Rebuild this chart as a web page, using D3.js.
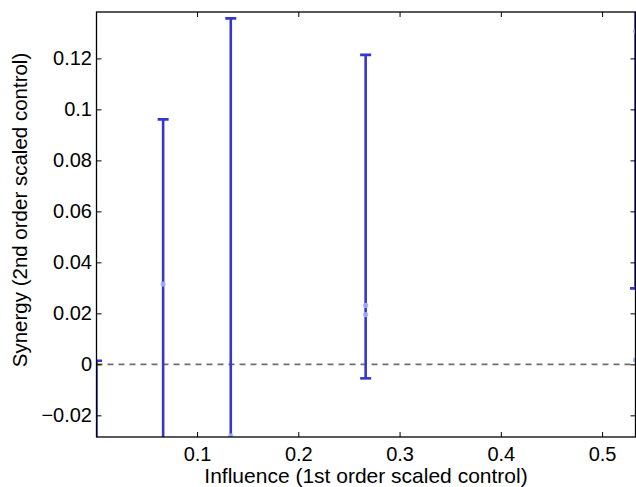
<!DOCTYPE html>
<html><head><meta charset="utf-8">
<script src="https://cdn.jsdelivr.net/npm/d3@7"></script>
<style>body{margin:0;background:#fff}svg{display:block}text{font-family:"Liberation Sans",Arial,sans-serif}</style>
</head><body>
<script>
// Error bar data: x position, centre, half-width
const barX = [0.0007, 0.0665, 0.1333, 0.2665, 0.533];
const barCenter = [-0.05, 0.0315, 0.05, 0.05795, 0.16];
const barErr = [0.0514, 0.0646, 0.0857, 0.06345, 0.1302];
// Light sample points
const ptX = [0.0665, 0.1333, 0.2665, 0.2665, 0.533, 0.533];
const ptY = [0.0315, -0.028, 0.0231, 0.0195, 0.1307, 0.0017];
const xTicks = [0.1, 0.2, 0.3, 0.4, 0.5];
const yTicks = [-0.02, 0, 0.02, 0.04, 0.06, 0.08, 0.1, 0.12];
const xDomain = [0.0007, 0.533];
const yDomain = [-0.0285, 0.1382];

const W = 636, H = 487;
const L = 96.5, R = 635.5, T = 12, B = 437;
const svg = d3.select("body").append("svg").attr("width", W).attr("height", H);
const x = d3.scaleLinear().domain(xDomain).range([L, R]);
const y = d3.scaleLinear().domain(yDomain).range([B, T]);

svg.append("clipPath").attr("id","clip").append("rect")
  .attr("x", L).attr("y", T).attr("width", R - L).attr("height", B - T);
const g = svg.append("g").attr("clip-path","url(#clip)");

// zero dashed line
g.append("line").attr("x1", L).attr("x2", R).attr("y1", y(0)).attr("y2", y(0))
  .attr("stroke","#6e6e6e").attr("stroke-width",1.6).attr("stroke-dasharray","6,5");

const blue = "#3636cf";
const capW = 5.5;
barX.forEach((bx, i) => {
  const lo = barCenter[i] - barErr[i], hi = barCenter[i] + barErr[i];
  const px = x(bx);
  g.append("line").attr("x1", px).attr("x2", px).attr("y1", y(lo)).attr("y2", y(hi))
    .attr("stroke", blue).attr("stroke-width", 2.6);
  [lo, hi].forEach(v => {
    g.append("line").attr("x1", px - capW).attr("x2", px + capW).attr("y1", y(v)).attr("y2", y(v))
      .attr("stroke", blue).attr("stroke-width", 2.6);
  });
});

ptX.forEach((px, i) => {
  g.append("circle").attr("cx", x(px)).attr("cy", y(ptY[i])).attr("r", 2.6)
    .attr("fill", "#9fb4f5").attr("opacity", 0.9);
});

// axes box with inward ticks
const axG = svg.append("g");
axG.append("g").attr("transform", `translate(0,${B})`)
  .call(d3.axisBottom(x).tickValues(xTicks).tickSizeInner(-5).tickSizeOuter(0).tickPadding(10).tickFormat(d3.format("")));
axG.append("g").attr("transform", `translate(0,${T})`)
  .call(d3.axisTop(x).tickValues(xTicks).tickSizeInner(-5).tickSizeOuter(0).tickFormat(""));
axG.append("g").attr("transform", `translate(${L},0)`)
  .call(d3.axisLeft(y).tickValues(yTicks).tickSizeInner(-5).tickSizeOuter(0).tickPadding(4.5)
    .tickFormat(d => d === 0 ? "0" : (d < 0 ? "\u22120.02" : d3.format("")(d))));
axG.append("g").attr("transform", `translate(${R},0)`)
  .call(d3.axisRight(y).tickValues(yTicks).tickSizeInner(-5).tickSizeOuter(0).tickFormat(""));
axG.selectAll(".domain").remove();
axG.selectAll(".tick line").attr("stroke","#000").attr("stroke-width",1);
axG.selectAll(".tick text").attr("fill","#000").style("font-size","20px");
axG.append("rect").attr("x", L).attr("y", T).attr("width", R - L).attr("height", B - T)
  .attr("fill","none").attr("stroke","#000").attr("stroke-width",1.3);

svg.append("text").attr("x", 366).attr("y", 482.5).attr("text-anchor","middle")
  .style("font-size","21px").text("Influence (1st order scaled control)");
svg.append("text").attr("transform","translate(27,210) rotate(-90)").attr("text-anchor","middle")
  .style("font-size","20.5px").text("Synergy (2nd order scaled control)");
</script>
</body></html>
